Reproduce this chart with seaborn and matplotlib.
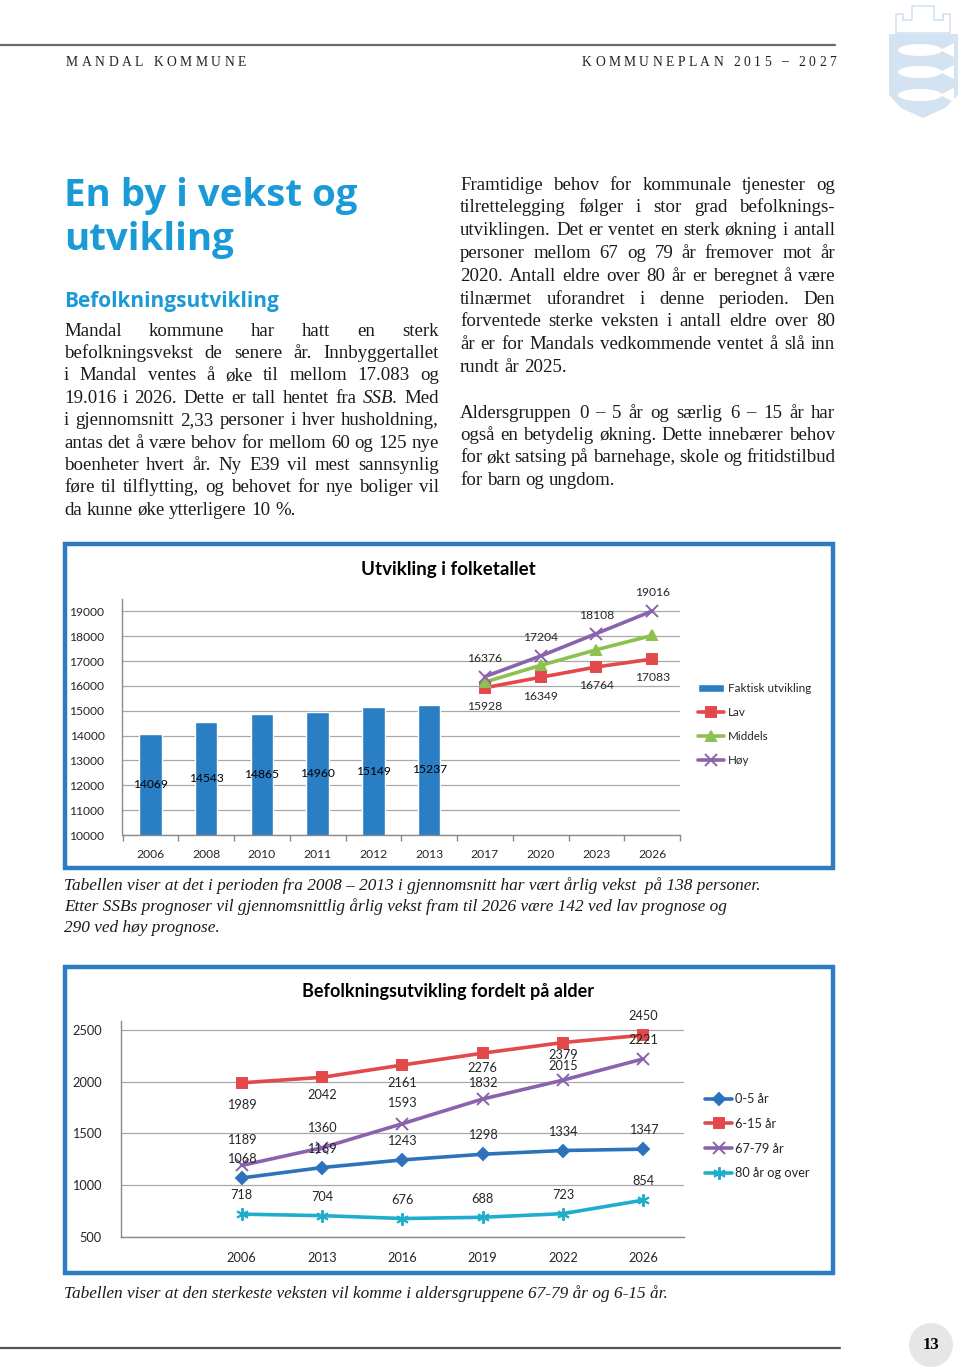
import numpy as np
import pandas as pd
import seaborn as sns
import matplotlib.pyplot as plt
from matplotlib.patches import Rectangle, Ellipse, Polygon

#-----------------------------------------------------------------------------------------
#----------------------------------- DATA ------------------------------------------------
#-----------------------------------------------------------------------------------------

aar_folketall = ['2006', '2008', '2010', '2011', '2012', '2013', '2017', '2020', '2023', '2026']
aar_faktisk = ['2006', '2008', '2010', '2011', '2012', '2013']
faktisk = [14069, 14543, 14865, 14960, 15149, 15237]
aar_prognose = ['2017', '2020', '2023', '2026']
lav = [15928, 16349, 16764, 17083]
middels = [16157, 16827, 17458, 18032]
hoy = [16376, 17204, 18108, 19016]

aar_alder = ['2006', '2013', '2016', '2019', '2022', '2026']
alder_0_5 = [1068, 1169, 1243, 1298, 1334, 1347]
alder_6_15 = [1989, 2042, 2161, 2276, 2379, 2450]
alder_67_79 = [1189, 1360, 1593, 1832, 2015, 2221]
alder_80 = [718, 704, 676, 688, 723, 854]

venstre_avsnitt = [
    "Mandal kommune har hatt en sterk",
    "befolkningsvekst de senere år. Innbyggertallet",
    "i Mandal ventes å øke til mellom 17.083 og",
    "19.016 i 2026. Dette er tall hentet fra _SSB. Med",
    "i gjennomsnitt 2,33 personer i hver husholdning,",
    "antas det å være behov for mellom 60 og 125 nye",
    "boenheter hvert år. Ny E39 vil mest sannsynlig",
    "føre til tilflytting, og behovet for nye boliger vil",
    "da kunne øke ytterligere 10 %.",
]
hoyre_avsnitt_1 = [
    "Framtidige behov for kommunale tjenester og",
    "tilrettelegging følger i stor grad befolknings-",
    "utviklingen. Det er ventet en sterk økning i antall",
    "personer mellom 67 og 79 år fremover mot år",
    "2020. Antall eldre over 80 år er beregnet å være",
    "tilnærmet uforandret i denne perioden. Den",
    "forventede sterke veksten i antall eldre over 80",
    "år er for Mandals vedkommende ventet å slå inn",
    "rundt år 2025.",
]
hoyre_avsnitt_2 = [
    "Aldersgruppen 0 – 5 år og særlig 6 – 15 år har",
    "også en betydelig økning. Dette innebærer behov",
    "for økt satsing på barnehage, skole og fritidstilbud",
    "for barn og ungdom.",
]
tekst_figur_1 = [
    "Tabellen viser at det i perioden fra 2008 – 2013 i gjennomsnitt har vært årlig vekst  på 138 personer.",
    "Etter SSBs prognoser vil gjennomsnittlig årlig vekst fram til 2026 være 142 ved lav prognose og",
    "290 ved høy prognose.",
]
tekst_figur_2 = "Tabellen viser at den sterkeste veksten vil komme i aldersgruppene 67-79 år og 6-15 år."

#-----------------------------------------------------------------------------------------
#----------------------------------- OPPSETT ---------------------------------------------
#-----------------------------------------------------------------------------------------

sns.set_theme(style="white")
plt.rcParams['font.family'] = ['Lato', 'DejaVu Sans']

W, H = 960, 1370
fig = plt.figure(figsize=(9.6, 13.7), dpi=100)
renderer = fig.canvas.get_renderer()

SERIF = ['Liberation Serif', 'DejaVu Serif']
SANS = ['Open Sans', 'DejaVu Sans']
TEKST = '#1a1a1a'
OVERSKRIFT = '#1a9ad6'
RAMME = '#2b7cc3'
GRID = '#a8a8a8'
AKSE = '#8a8a8a'

BLA = '#2a7ec4'
ROD = '#e3494a'
GRONN = '#8cc04f'
LILLA = '#8a63ad'
BLA2 = '#2d73bb'
CYAN = '#1eaecb'

BRØD = 13.6


def fx(px):
    return px / W


def fy(py):
    return 1 - py / H


def tekst_linje(linje, x0, x1, y, size, justify=True):
    ordene = [w for w in linje.split(' ') if w]
    objs = []
    for w in ordene:
        stil = 'normal'
        if w.startswith('_'):
            w = w[1:]
            stil = 'italic'
        objs.append(fig.text(fx(x0), fy(y), w, fontsize=size, family=SERIF, style=stil,
                             color=TEKST, va='baseline', ha='left'))
    bredder = [o.get_window_extent(renderer).width for o in objs]
    if justify and len(objs) > 1:
        gap = (x1 - x0 - sum(bredder)) / (len(objs) - 1)
    else:
        gap = size * 100 / 72 * 0.25
    x = x0
    for o, b in zip(objs, bredder):
        o.set_x(fx(x))
        x += b + gap


def avsnitt(linjer, x0, x1, y0, dy, size):
    for i, linje in enumerate(linjer):
        tekst_linje(linje, x0, x1, y0 + i * dy, size, justify=(i < len(linjer) - 1))


def sperret(tekst, x0, x1, y, size):
    objs = [fig.text(0, fy(y), c, fontsize=size, family=SERIF, color='#222222',
                     va='baseline', ha='left') for c in tekst]
    bredder = [o.get_window_extent(renderer).width if c != ' ' else size * 100 / 72 * 0.25
               for o, c in zip(objs, tekst)]
    spor = (x1 - x0 - sum(bredder)) / (len(objs) - 1)
    x = x0
    for o, b in zip(objs, bredder):
        o.set_x(fx(x))
        x += b + spor


#-----------------------------------------------------------------------------------------
#----------------------------------- SIDEHODE --------------------------------------------
#-----------------------------------------------------------------------------------------

fig.add_artist(plt.Line2D([0, fx(835)], [fy(45), fy(45)], color='#6b6b6b', linewidth=1.6))
sperret("MANDAL KOMMUNE", 66, 246, 65.5, 9.8)
sperret("KOMMUNEPLAN 2015 – 2027", 582, 836, 65.5, 9.8)

# kommunevapen (forenklet)
vapen = '#d3e3f1'
fig.add_artist(Polygon([(fx(889), fy(34)), (fx(958), fy(34)), (fx(958), fy(95)),
                        (fx(945), fy(108)), (fx(923), fy(118)), (fx(901), fy(108)),
                        (fx(889), fy(95))], closed=True, transform=fig.transFigure,
                       facecolor=vapen, edgecolor='none'))
fig.add_artist(Polygon([(fx(896), fy(33)), (fx(896), fy(14)), (fx(903), fy(14)), (fx(903), fy(20)),
                        (fx(912), fy(20)), (fx(912), fy(6)), (fx(934), fy(6)), (fx(934), fy(20)),
                        (fx(943), fy(20)), (fx(943), fy(14)), (fx(950), fy(14)), (fx(950), fy(33))],
                       closed=True, transform=fig.transFigure, facecolor='none',
                       edgecolor=vapen, linewidth=1.2))
for fy_px in [50, 72, 95]:
    fig.add_artist(Ellipse((fx(920), fy(fy_px)), 44 / W, 12 / H, transform=fig.transFigure,
                           facecolor='white', edgecolor='none'))
    fig.add_artist(Polygon([(fx(940), fy(fy_px)), (fx(954), fy(fy_px - 7)), (fx(954), fy(fy_px + 7))],
                           closed=True, transform=fig.transFigure, facecolor='white', edgecolor='none'))

#-----------------------------------------------------------------------------------------
#----------------------------------- TEKST -----------------------------------------------
#-----------------------------------------------------------------------------------------

fig.text(fx(64), fy(206), "En by i vekst og", fontsize=27.6, family=SANS, weight='bold',
         color=OVERSKRIFT, va='baseline')
fig.text(fx(64), fy(250), "utvikling", fontsize=27.6, family=SANS, weight='bold',
         color=OVERSKRIFT, va='baseline')
fig.text(fx(64), fy(306.5), "Befolkningsutvikling", fontsize=15, family=SANS, weight='bold',
         color=OVERSKRIFT, va='baseline')

avsnitt(venstre_avsnitt, 64, 439, 335.5, 22.4, BRØD)
avsnitt(hoyre_avsnitt_1, 460, 835, 189.5, 22.8, BRØD)
avsnitt(hoyre_avsnitt_2, 460, 835, 417.5, 22.5, BRØD)

for i, linje in enumerate(tekst_figur_1):
    fig.text(fx(64), fy(890 + i * 21), linje, fontsize=12.4, family=SERIF, style='italic',
             color=TEKST, va='baseline')
fig.text(fx(64), fy(1298), tekst_figur_2, fontsize=12.4, family=SERIF, style='italic',
         color=TEKST, va='baseline')

#-----------------------------------------------------------------------------------------
#----------------------------------- RAMMER ----------------------------------------------
#-----------------------------------------------------------------------------------------

for topp, bunn in [(544, 868), (967, 1273)]:
    fig.add_artist(Rectangle((fx(65), fy(bunn)), fx(833) - fx(65), fy(topp) - fy(bunn),
                             transform=fig.transFigure, fill=False, edgecolor=RAMME,
                             linewidth=3.2))

#-----------------------------------------------------------------------------------------
#----------------------------------- FIGUR 1 ---------------------------------------------
#-----------------------------------------------------------------------------------------

ax1 = fig.add_axes([fx(122.5), fy(835), fx(680) - fx(122.5), fy(599) - fy(835)])
df_faktisk = pd.DataFrame({'aar': aar_faktisk, 'innbyggere': faktisk})
sns.barplot(data=df_faktisk, x='aar', y='innbyggere', order=aar_folketall, color=BLA,
            saturation=1, width=0.4, ax=ax1, label='Faktisk utvikling')

pos_prognose = [aar_folketall.index(a) for a in aar_prognose]
for verdier, farge, mk, navn, ms in [(lav, ROD, 's', 'Lav', 7),
                                     (middels, GRONN, '^', 'Middels', 7.5),
                                     (hoy, LILLA, 'x', 'Høy', 8)]:
    sns.lineplot(x=pos_prognose, y=verdier, color=farge, marker=mk, markersize=ms,
                 markeredgecolor=farge, markeredgewidth=1.4, linewidth=2.6, ax=ax1, label=navn)

ymin1 = 10000
ax1.set_ylim(ymin1, 19500)
ax1.set_xlim(-0.5, len(aar_folketall) - 0.5)
ax1.set_yticks(range(10000, 19001, 1000))
ax1.set_xticks(range(len(aar_folketall)))
ax1.set_xticklabels(aar_folketall)
ax1.set_xticks(np.arange(-0.5, len(aar_folketall), 1), minor=True)
ax1.set_xlabel('')
ax1.set_ylabel('')
ax1.yaxis.grid(True, color=GRID, linewidth=0.9)
ax1.set_axisbelow(True)
for s in ['top', 'right']:
    ax1.spines[s].set_visible(False)
for s in ['left', 'bottom']:
    ax1.spines[s].set_color(AKSE)
    ax1.spines[s].set_linewidth(1)
ax1.tick_params(axis='x', which='major', length=0, pad=10, labelsize=8.7)
ax1.tick_params(axis='x', which='minor', bottom=True, length=4, color=AKSE, width=1)
ax1.tick_params(axis='y', length=0, pad=13, labelsize=8.7)

for i, v in enumerate(faktisk):
    ax1.text(i, (v + ymin1) / 2, str(v), ha='center', va='center', fontsize=8.7, color='black')
for p, v in zip(pos_prognose, hoy):
    ax1.annotate(str(v), (p, v), xytext=(0, 13), textcoords='offset points',
                 ha='center', va='center', fontsize=8.7)
for p, v in zip(pos_prognose, lav):
    ax1.annotate(str(v), (p, v), xytext=(0, -13.5), textcoords='offset points',
                 ha='center', va='center', fontsize=8.7)

handles, labels = ax1.get_legend_handles_labels()
rekke = ['Faktisk utvikling', 'Lav', 'Middels', 'Høy']
oppslag = dict(zip(labels, handles))
ax1.legend([oppslag[n] for n in rekke], rekke, loc='upper left',
           bbox_to_anchor=(fx(698), fy(683)), bbox_transform=fig.transFigure,
           frameon=False, fontsize=8.4, handlelength=2.25, handletextpad=0.3,
           labelspacing=1.12, borderpad=0, borderaxespad=0)

fig.text(fx(448), fy(569), "Utvikling i folketallet", fontsize=13.5, weight='bold',
         ha='center', va='center', color='black')

#-----------------------------------------------------------------------------------------
#----------------------------------- FIGUR 2 ---------------------------------------------
#-----------------------------------------------------------------------------------------

ax2 = fig.add_axes([fx(121), fy(1236.7), fx(683.5) - fx(121), fy(1020.7) - fy(1236.7)])
pos_alder = np.arange(len(aar_alder))
serier = [(alder_0_5, BLA2, 'D', '0-5 år', 6.5),
          (alder_6_15, ROD, 's', '6-15 år', 7),
          (alder_67_79, LILLA, 'x', '67-79 år', 8),
          (alder_80, CYAN, (6, 2, 0), '80 år og over', 9)]
for verdier, farge, mk, navn, ms in serier:
    sns.lineplot(x=pos_alder, y=verdier, color=farge, marker=mk, markersize=ms,
                 markeredgecolor=farge, markeredgewidth=1.4, linewidth=2.6, ax=ax2, label=navn)

ax2.set_xlim(-1.5, len(aar_alder) - 0.5)
ax2.set_ylim(500, 2590)
ax2.set_yticks(range(500, 2501, 500))
ax2.set_xticks(pos_alder)
ax2.set_xticklabels(aar_alder)
ax2.set_xlabel('')
ax2.set_ylabel('')
ax2.yaxis.grid(True, color=GRID, linewidth=0.9)
ax2.set_axisbelow(True)
for s in ['top', 'right']:
    ax2.spines[s].set_visible(False)
for s in ['left', 'bottom']:
    ax2.spines[s].set_color(AKSE)
    ax2.spines[s].set_linewidth(1)
ax2.tick_params(axis='x', length=0, pad=11, labelsize=9.2)
ax2.tick_params(axis='y', length=0, pad=14, labelsize=9.2)

# etikettplassering i punkter (som i Excel-grafen)
forskyv_0_5 = [13.5] * 6
forskyv_80 = [13.5] * 6
forskyv_67_79 = [18.5, 14.5, 15, 11.5, 10, 13.5]
forskyv_6_15 = [-16, -12.5, -13, -10.5, -9, 14]
for verdier, forskyv in [(alder_0_5, forskyv_0_5), (alder_67_79, forskyv_67_79),
                         (alder_80, forskyv_80), (alder_6_15, forskyv_6_15)]:
    for p, v, dy in zip(pos_alder, verdier, forskyv):
        ax2.annotate(str(v), (p, v), xytext=(0, dy), textcoords='offset points',
                     ha='center', va='center', fontsize=9.2)

ax2.legend(loc='upper left', bbox_to_anchor=(fx(705), fy(1093)), bbox_transform=fig.transFigure,
           frameon=False, fontsize=9.2, handlelength=2.15, handletextpad=0.2,
           labelspacing=1.0, borderpad=0, borderaxespad=0)

fig.text(fx(448), fy(991), "Befolkningsutvikling fordelt på alder", fontsize=13, weight='bold',
         ha='center', va='center', color='black')

#-----------------------------------------------------------------------------------------
#----------------------------------- SIDEFOT ---------------------------------------------
#-----------------------------------------------------------------------------------------

fig.add_artist(plt.Line2D([0, fx(840)], [fy(1348), fy(1348)], color='#555555', linewidth=1.6))
fig.add_artist(Ellipse((fx(931), fy(1345)), 44 / W, 44 / H, transform=fig.transFigure,
                       facecolor='#e6e6e6', edgecolor='none'))
fig.text(fx(931), fy(1345), "13", fontsize=12, family=SERIF, weight='bold',
         ha='center', va='center', color='black')

fig.savefig('out.png', dpi=100)
